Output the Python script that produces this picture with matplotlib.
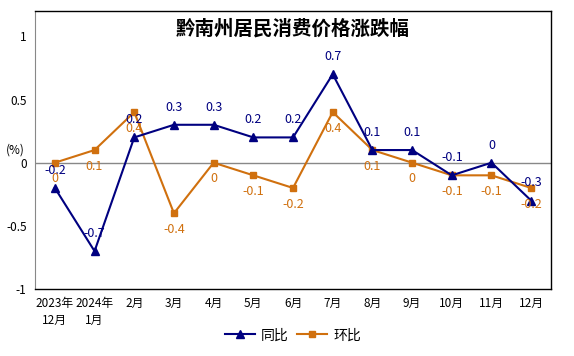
import matplotlib.pyplot as plt

plt.rcParams['font.family'] = ['Noto Sans CJK SC', 'DejaVu Sans']

meses = ["2023年\n12月", "2024年\n1月", "2月", "3月", "4月", "5月", "6月",
         "7月", "8月", "9月", "10月", "11月", "12月"]
tongbi = [-0.2, -0.7, 0.2, 0.3, 0.3, 0.2, 0.2, 0.7, 0.1, 0.1, -0.1, 0, -0.3]
huanbi = [0, 0.1, 0.4, -0.4, 0, -0.1, -0.2, 0.4, 0.1, 0, -0.1, -0.1, -0.2]

cor_tb = '#000080'
cor_hb = '#D0700E'

fig = plt.figure(figsize=(5.74, 3.56), dpi=100)
ax = fig.add_axes([0.061, 0.188, 0.899, 0.781])

x = list(range(len(meses)))
ax.axhline(0, color='#888888', lw=1, zorder=1)
ax.plot(x, tongbi, color=cor_tb, lw=1.5, marker='^', ms=6, label='同比', zorder=3)
ax.plot(x, huanbi, color=cor_hb, lw=1.5, marker='s', ms=5, label='环比', zorder=2)

def fmt(v):
    return '0' if v == 0 else ('%g' % v)

for xi, v in zip(x, tongbi):
    ax.annotate(fmt(v), (xi, v), xytext=(0, 8), textcoords='offset points',
                ha='center', va='bottom', fontsize=9, color=cor_tb)
for xi, v in zip(x, huanbi):
    ax.annotate(fmt(v), (xi, v), xytext=(0, -7), textcoords='offset points',
                ha='center', va='top', fontsize=9, color=cor_hb)

ax.set_xlim(-0.5, len(meses) - 0.5)
ax.set_ylim(-1, 1.2)
ax.set_yticks([-1, -0.5, 0, 0.5, 1])
ax.set_yticklabels(['-1', '-0.5', '0', '0.5', '1'])
ax.set_xticks(x)
ax.set_xticklabels(meses, fontsize=8.5, linespacing=1.35)
ax.tick_params(axis='y', labelsize=8.5, length=0, pad=6)
ax.tick_params(axis='x', length=0, pad=6)

ax.spines['left'].set_color('#888888')
for s in ['top', 'right', 'bottom']:
    ax.spines[s].set_color('black')
    ax.spines[s].set_linewidth(1)

ax.set_title('黔南州居民消费价格涨跌幅', fontsize=14, fontweight='bold', y=0.885)
fig.text(0.027, 0.578, '(%)', fontsize=8.5, ha='center', va='center')

fig.legend(loc='center', bbox_to_anchor=(0.51, 0.058), ncol=2, frameon=False,
           fontsize=10, handlelength=2.2, columnspacing=0.6, handletextpad=0.4)

fig.savefig('out.png', dpi=100)
